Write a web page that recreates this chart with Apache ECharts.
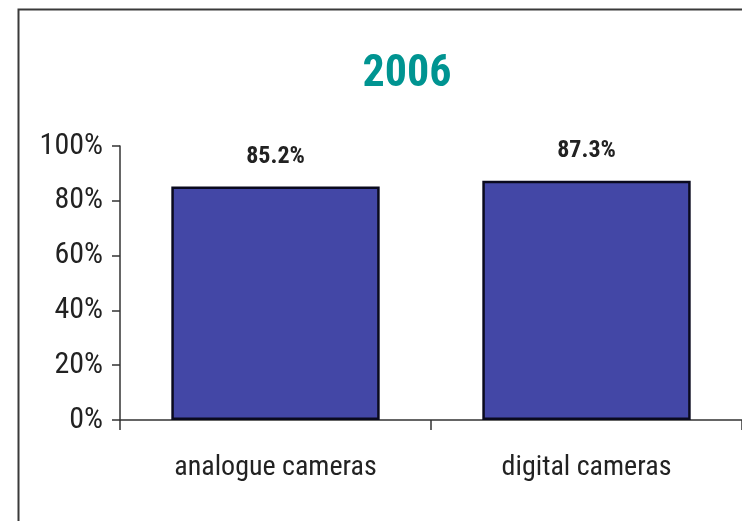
<!DOCTYPE html>
<html>
<head>
<meta charset="utf-8">
<script src="https://cdn.jsdelivr.net/npm/echarts@6/dist/echarts.min.js"></script>
<style>
  html, body { margin: 0; padding: 0; background: #ffffff; }
  #chart { width: 742px; height: 521px; }
</style>
</head>
<body>
<div id="chart"></div>
<script>
// Share of households / products, 2006
const titleText = '2006';
const categories = ['analogue cameras', 'digital cameras'];
const values = [85.2, 87.3];
const yTicks = [0, 20, 40, 60, 80, 100];

const narrow = '"Liberation Sans Narrow", "Arial Narrow", "Roboto Condensed", "Liberation Sans", sans-serif';

const chart = echarts.init(document.getElementById('chart'), null, { renderer: 'canvas' });

chart.setOption({
  backgroundColor: '#ffffff',
  animation: false,
  title: {
    text: titleText,
    left: 402,
    top: 48,
    textAlign: 'center',
    textStyle: {
      color: '#009491',
      fontFamily: narrow,
      fontWeight: 'bold',
      fontSize: 44
    }
  },
  graphic: [{
    type: 'rect',
    left: 16,
    top: 7,
    shape: { width: 900, height: 700 },
    style: { fill: 'none', stroke: '#3a3a3a', lineWidth: 2 },
    silent: true
  }],
  grid: {
    left: 120,
    right: -6,
    top: 146,
    bottom: 101,
    containLabel: false
  },
  xAxis: {
    type: 'category',
    data: categories,
    axisLine: { show: true, lineStyle: { color: '#333333', width: 1.5 } },
    axisTick: { show: true, alignWithLabel: false, length: 10, lineStyle: { color: '#333333', width: 1.5 } },
    axisLabel: {
      color: '#222222',
      fontFamily: narrow,
      fontSize: 28,
      margin: 34
    }
  },
  yAxis: {
    type: 'value',
    min: 0,
    max: 100,
    interval: 20,
    axisLine: { show: true, lineStyle: { color: '#333333', width: 1.5 } },
    axisTick: { show: true, length: 8, lineStyle: { color: '#333333', width: 1.5 } },
    splitLine: { show: false },
    axisLabel: {
      color: '#222222',
      fontFamily: narrow,
      fontSize: 30,
      margin: 17,
      formatter: function (v) { return yTicks.indexOf(v) >= 0 ? v + '%' : ''; }
    }
  },
  series: [{
    type: 'bar',
    data: values,
    barWidth: '67%',
    itemStyle: {
      color: '#4347a6',
      borderColor: '#0a0a1e',
      borderWidth: 2.5
    },
    label: {
      show: true,
      position: 'top',
      distance: 18,
      color: '#222222',
      fontFamily: narrow,
      fontWeight: 'bold',
      fontSize: 24,
      formatter: function (p) { return p.value.toFixed(1) + '%'; }
    }
  }]
});
</script>
</body>
</html>
